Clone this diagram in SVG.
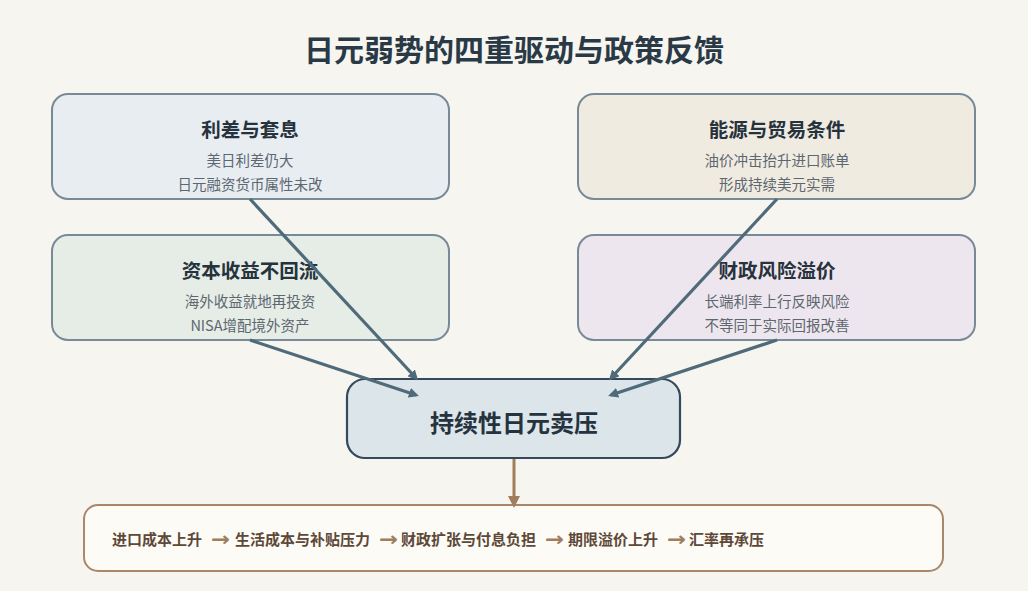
<svg xmlns="http://www.w3.org/2000/svg" width="1028" height="591" viewBox="0 0 1028 591">
<defs>
<style>
.bg{fill:#f6f5f0}
.box{stroke:#788a96;stroke-width:2}
.t{font-family:"Noto Sans CJK SC","Noto Sans",sans-serif;text-anchor:middle}
.title{font-size:30px;font-weight:bold;fill:#2a3946}
.h{font-size:19.5px;font-weight:bold;fill:#26323c}
.s{font-size:14.5px;fill:#5d6770}
.c{font-family:"Noto Sans CJK SC",sans-serif;font-size:15px;font-weight:bold;fill:#5e4838}
.ar{font-family:"DejaVu Sans",sans-serif;font-size:20px;font-weight:bold;fill:#a07e5c}
.conn{stroke:#4f6a79;stroke-width:3.2;fill:none;marker-end:url(#ah)}
</style>
<marker id="ah" markerWidth="10" markerHeight="10" refX="7" refY="5" orient="auto" markerUnits="userSpaceOnUse" viewBox="0 0 10 10">
<path d="M0,0 L10,5 L0,10 Z" fill="#4f6a79"/>
</marker>
<marker id="ahb" markerWidth="12" markerHeight="12" refX="8" refY="6" orient="auto" markerUnits="userSpaceOnUse" viewBox="0 0 12 12">
<path d="M0,0 L12,6 L0,12 Z" fill="#a07e5c"/>
</marker>
</defs>
<rect class="bg" x="0" y="0" width="1028" height="591"/>
<text class="t title" x="514" y="61">日元弱势的四重驱动与政策反馈</text>

<g id="n1">
<rect class="box" x="52" y="94" width="397" height="105" rx="16" fill="#e8edf2"/>
<text class="t h" x="250" y="137">利差与套息</text>
<text class="t s" x="250" y="166">美日利差仍大</text>
<text class="t s" x="250" y="190">日元融资货币属性未改</text>
</g>
<g id="n2">
<rect class="box" x="578" y="94" width="397" height="105" rx="16" fill="#f0ebe1"/>
<text class="t h" x="777" y="137">能源与贸易条件</text>
<text class="t s" x="777" y="166">油价冲击抬升进口账单</text>
<text class="t s" x="777" y="190">形成持续美元实需</text>
</g>
<g id="n3">
<rect class="box" x="52" y="235" width="397" height="105" rx="16" fill="#e5ede6"/>
<text class="t h" x="250" y="278">资本收益不回流</text>
<text class="t s" x="250" y="307">海外收益就地再投资</text>
<text class="t s" x="250" y="331">NISA增配境外资产</text>
</g>
<g id="n4">
<rect class="box" x="578" y="235" width="397" height="105" rx="16" fill="#eee6ee"/>
<text class="t h" x="777" y="278">财政风险溢价</text>
<text class="t s" x="777" y="307">长端利率上行反映风险</text>
<text class="t s" x="777" y="331">不等同于实际回报改善</text>
</g>
<g id="center">
<rect x="347" y="379" width="333" height="79" rx="18" fill="#dce5ea" stroke="#34495a" stroke-width="2.2"/>
<text class="t" x="514" y="432" font-size="24" font-weight="bold" fill="#25333f">持续性日元卖压</text>
</g>
<g id="chain">
<rect x="84" y="505" width="859" height="66" rx="14" fill="#fdfbf6" stroke="#a8876a" stroke-width="2"/>
<text class="c" x="112" y="545">进口成本上升</text>
<text class="ar" x="211" y="546" textLength="19" lengthAdjust="spacingAndGlyphs">→</text>
<text class="c" x="235" y="545">生活成本与补贴压力</text>
<text class="ar" x="379" y="546" textLength="19" lengthAdjust="spacingAndGlyphs">→</text>
<text class="c" x="401" y="545">财政扩张与付息负担</text>
<text class="ar" x="545" y="546" textLength="19" lengthAdjust="spacingAndGlyphs">→</text>
<text class="c" x="568" y="545">期限溢价上升</text>
<text class="ar" x="667" y="546" textLength="19" lengthAdjust="spacingAndGlyphs">→</text>
<text class="c" x="689" y="545">汇率再承压</text>
</g>
<g id="connectors">
<line class="conn" x1="250" y1="199" x2="416" y2="378"/>
<line class="conn" x1="250" y1="340" x2="416" y2="395"/>
<line class="conn" x1="777" y1="199" x2="611" y2="378"/>
<line class="conn" x1="777" y1="340" x2="611" y2="395"/>
<line x1="514" y1="459" x2="514" y2="504" stroke="#a07e5c" stroke-width="3" marker-end="url(#ahb)"/>
</g>
</svg>
